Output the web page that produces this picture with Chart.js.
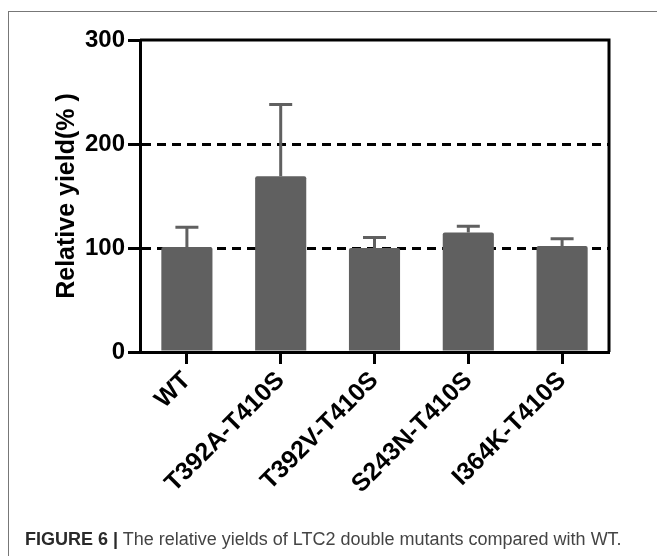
<!DOCTYPE html>
<html>
<head>
<meta charset="utf-8">
<script src="https://cdn.jsdelivr.net/npm/chart.js@4.4.1/dist/chart.umd.min.js"></script>
<style>
  html, body { margin: 0; padding: 0; background: #fff; }
  #wrap { position: relative; width: 657px; height: 556px; overflow: hidden; }
  #box { position: absolute; left: 8px; top: 11px; width: 700px; height: 600px; border: 1px solid #777; box-sizing: border-box; }
  #cv { position: absolute; left: 0; top: 0; }
  #caption { position: absolute; left: 25px; top: 529px; font-family: "Liberation Sans", Arial, sans-serif; font-size: 18px; color: #444; white-space: nowrap; }
  #caption b { color: #2a2a2a; }
</style>
</head>
<body>
<div id="wrap">
  <div id="box"></div>
  <canvas id="cv" width="657" height="556"></canvas>
  <div id="caption"><b>FIGURE 6 |</b> The relative yields of LTC2 double mutants compared with WT.</div>
</div>
<script>
// datos
const categorias = ["WT", "T392A-T410S", "T392V-T410S", "S243N-T410S", "I364K-T410S"];
const rendimiento = [101, 169, 100, 115, 102];
const errorSup = [19, 69, 10, 6, 7];
const ticksY = [0, 100, 200, 300];

const colorBarra = '#606060';

// Dibuja las barras de error (solo hacia arriba) y el marco superior/derecho
const plugErrores = {
    id: 'errores',
    afterDatasetsDraw(chart) {
        const { ctx, scales } = chart;
        const meta = chart.getDatasetMeta(0);
        ctx.save();
        ctx.strokeStyle = colorBarra;
        ctx.lineWidth = 3;
        meta.data.forEach((bar, i) => {
            const x = bar.x;
            const yTop = scales.y.getPixelForValue(rendimiento[i]);
            const yErr = scales.y.getPixelForValue(rendimiento[i] + errorSup[i]);
            ctx.beginPath();
            ctx.moveTo(x, yTop);
            ctx.lineTo(x, yErr);
            ctx.moveTo(x - 11.5, yErr);
            ctx.lineTo(x + 11.5, yErr);
            ctx.stroke();
        });
        ctx.restore();
    },
    afterDraw(chart) {
        const { ctx, chartArea } = chart;
        ctx.save();
        ctx.strokeStyle = '#000';
        ctx.lineWidth = 3;
        ctx.beginPath();
        ctx.moveTo(chartArea.left, chartArea.top);
        ctx.lineTo(chartArea.right, chartArea.top);
        ctx.lineTo(chartArea.right, chartArea.bottom);
        ctx.stroke();
        ctx.restore();
    }
};

new Chart(document.getElementById('cv'), {
    type: 'bar',
    data: {
        labels: categorias,
        datasets: [{
            data: rendimiento,
            backgroundColor: colorBarra,
            borderRadius: { topLeft: 2, topRight: 2 },
            borderSkipped: 'bottom',
            categoryPercentage: 1,
            barPercentage: 0.545
        }]
    },
    options: {
        responsive: false,
        animation: false,
        layout: { padding: { left: 52, top: 40, right: 48, bottom: 0 } },
        plugins: {
            legend: { display: false },
            tooltip: { enabled: false }
        },
        scales: {
            x: {
                grid: {
                    drawOnChartArea: false,
                    offset: false,
                    tickLength: 12,
                    tickWidth: 3,
                    tickColor: '#000'
                },
                border: { color: '#000', width: 3 },
                ticks: {
                    minRotation: 45,
                    maxRotation: 45,
                    color: '#000',
                    padding: 2,
                    font: { family: 'Liberation Sans', size: 25, weight: 'bold' }
                },
                afterFit(scale) { scale.height = 204; }
            },
            y: {
                min: 0,
                max: 300,
                afterBuildTicks(scale) { scale.ticks = ticksY.map(v => ({ value: v })); },
                grid: {
                    color: (c) => (c.tick && (c.tick.value === 100 || c.tick.value === 200)) ? '#000' : 'rgba(0,0,0,0)',
                    lineWidth: 3,
                    tickLength: 12,
                    tickWidth: 3,
                    tickColor: '#000'
                },
                border: { color: '#000', width: 3, dash: [9, 6] },
                ticks: {
                    color: '#000',
                    padding: 3,
                    font: { family: 'Liberation Sans', size: 24, weight: 'bold' }
                },
                title: {
                    display: true,
                    text: 'Relative yield(% )',
                    color: '#000',
                    padding: 0,
                    font: { family: 'Liberation Sans', size: 25, weight: 'bold' }
                },
                afterFit(scale) { scale.width = 88; }
            }
        }
    },
    plugins: [plugErrores]
});
</script>
</body>
</html>
